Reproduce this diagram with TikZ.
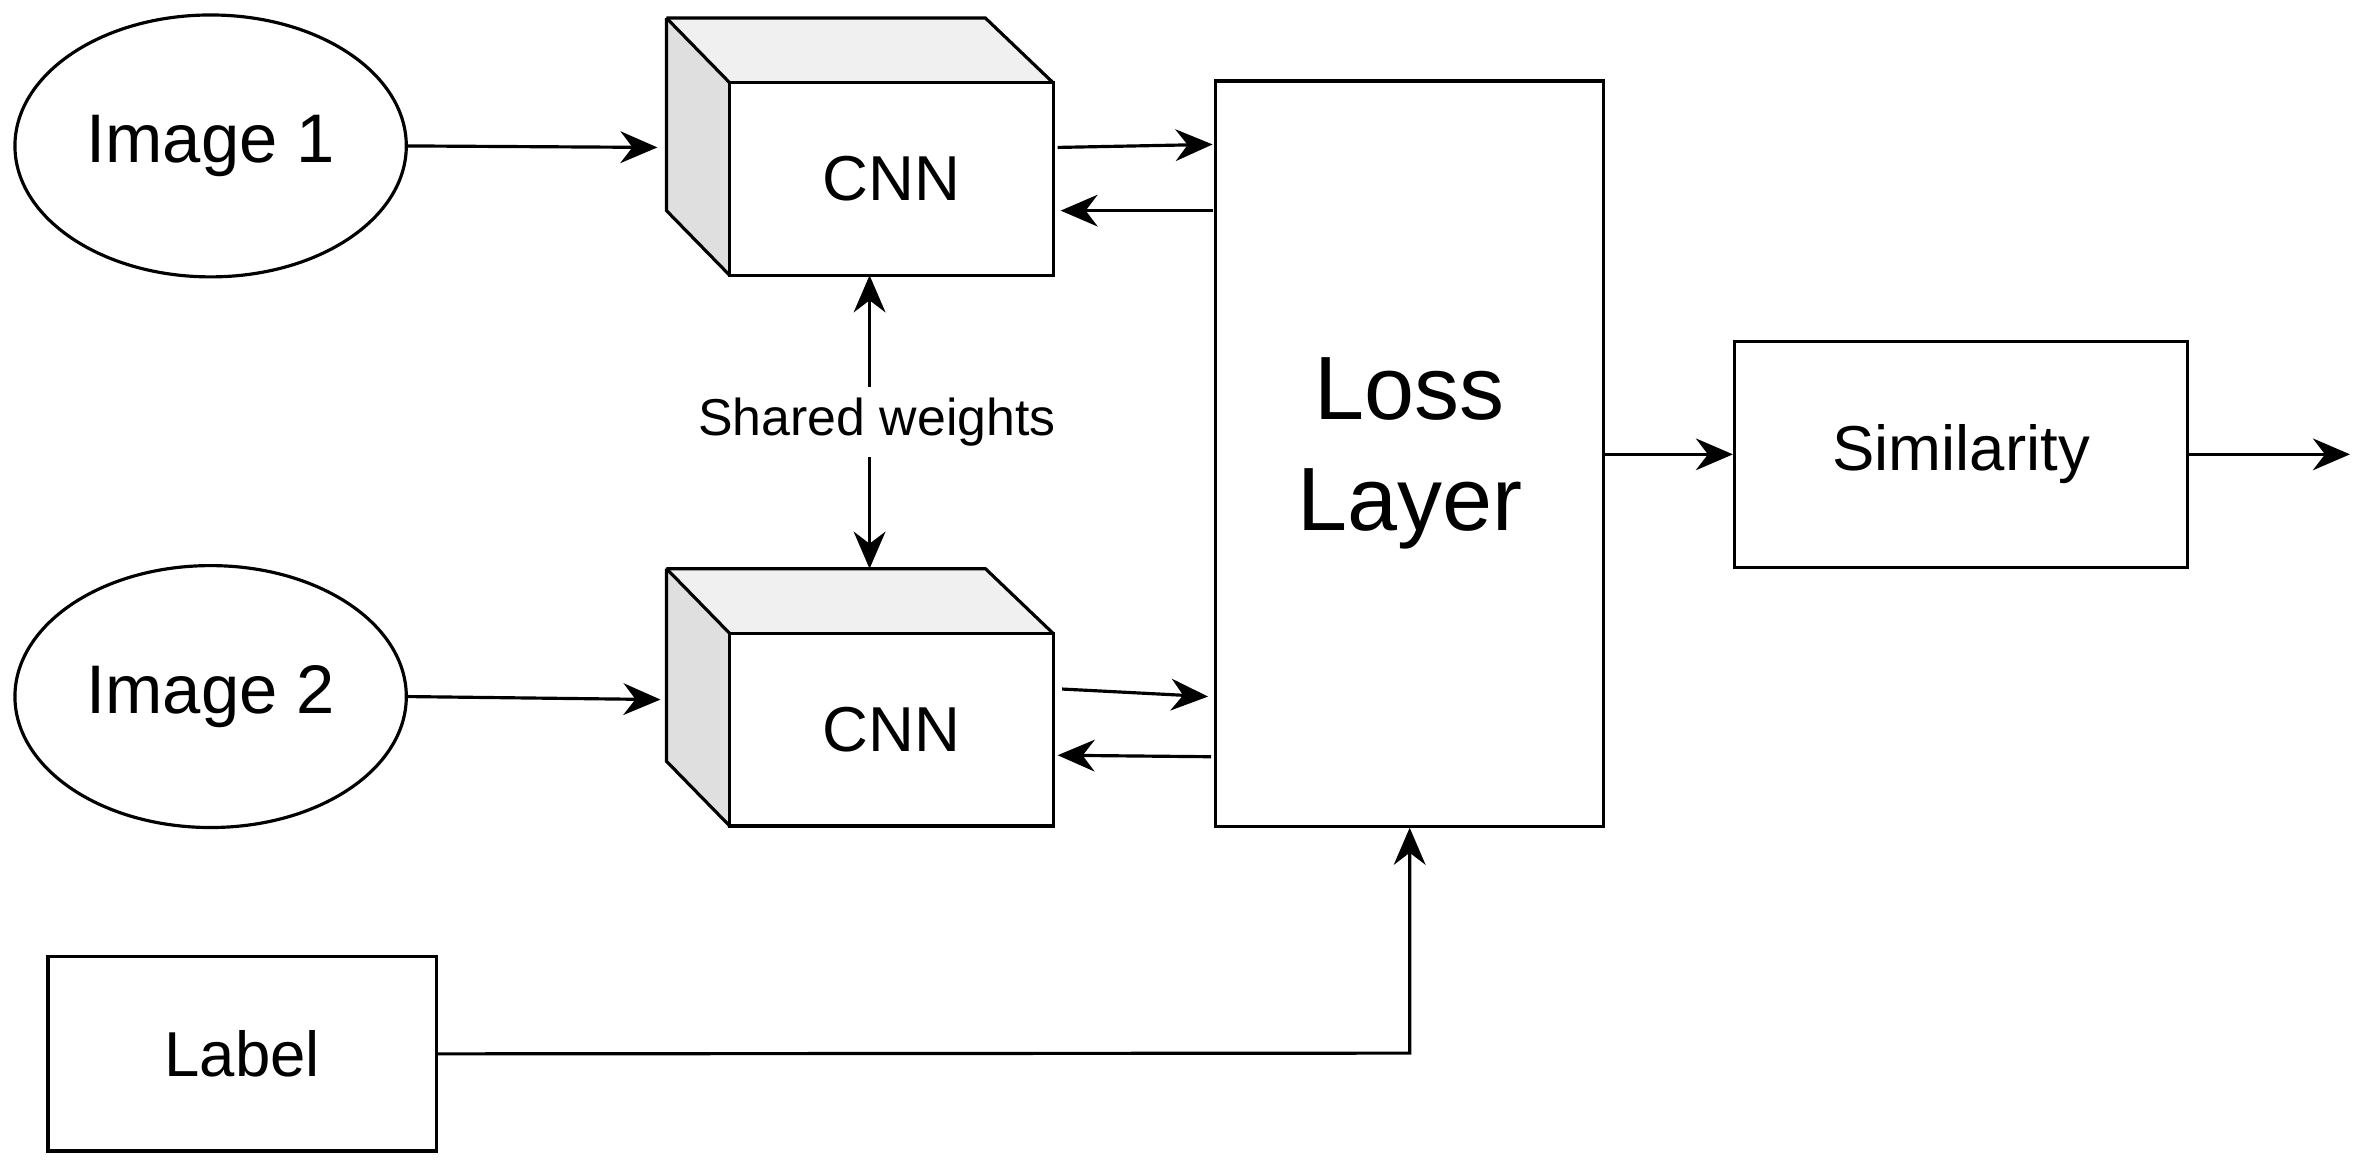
\documentclass[tikz,border=0pt]{standalone}
\usepackage{fontspec}
\setmainfont{Liberation Sans}
\usetikzlibrary{shapes.geometric,arrows.meta}
\begin{document}
\begin{tikzpicture}[x=0.01cm,y=-0.01cm,
  line width=0.6pt,
  arr/.style={-{Stealth[length=7pt,width=6pt]}},
  box/.style={draw,rectangle,inner sep=0pt},
  ell/.style={draw,ellipse,minimum width=260\pgfunitx,minimum height=174\pgfunitx,inner sep=0pt,font=\fontsize{13}{15}\selectfont}]
\def\pgfunitx{*0.01cm}
\useasboundingbox (0,0) rectangle (1568,776);
\node[ell,minimum width=2.6cm,minimum height=1.74cm] (i1) at (140,97) {Image 1};
\node[ell,minimum width=2.6cm,minimum height=1.74cm] (i2) at (140,463) {Image 2};
% CNN cubes
\foreach \n/\y in {c1/0,c2/366}{
  \begin{scope}[yshift=-\y*0.01cm]
  \fill[gray!12] (443,12) -- (655,12) -- (700,55) -- (485,55) -- cycle;
  \fill[gray!25] (443,12) -- (485,55) -- (485,183) -- (443,140) -- cycle;
  \draw (443,12) -- (655,12) -- (700,55);
  \draw (443,12) -- (485,55);
  \draw (443,12) -- (443,140) -- (485,183);
  \end{scope}
}
\node[box,minimum width=2.15cm,minimum height=1.28cm,font=\fontsize{12}{14}\selectfont] (c1) at (592.5,119) {CNN};
\node[box,minimum width=2.15cm,minimum height=1.28cm,font=\fontsize{12}{14}\selectfont] (c2) at (592.5,485) {CNN};
\node[box,minimum width=2.58cm,minimum height=4.95cm,font=\fontsize{17}{21}\selectfont,align=center] (loss) at (937,301.5) {Loss\\Layer};
\node[box,minimum width=3.01cm,minimum height=1.5cm,font=\fontsize{12}{14}\selectfont] (sim) at (1303.5,302) {Similarity};
\node[box,minimum width=2.58cm,minimum height=1.29cm,font=\fontsize{12}{14}\selectfont] (lab) at (161,700.5) {Label};
\coordinate (out) at (1562,302);
\draw[arr] (i1.east) -- (437,98);
\draw[arr] (i2.east) -- (439,465);
\draw[arr] (703,98) -- (806,96);
\draw[arr] (806,140) -- (705,140);
\draw[arr] (706,458) -- (803,463);
\draw[arr] (805,503) -- (703,502);
\draw[arr] (1066,302) -- (sim.west);
\draw[arr] (sim.east) -- (out);
\draw[arr] (lab.east) -- (937,700) -- (loss.south);
\draw[{Stealth[length=7pt,width=6pt]}-{Stealth[length=7pt,width=6pt]}] (578,183) -- node[fill=white,inner sep=2pt,font=\fontsize{9.8}{12}\selectfont,xshift=5\pgfunitx] (sw) {Shared weights} (578,378);
\end{tikzpicture}
\end{document}
